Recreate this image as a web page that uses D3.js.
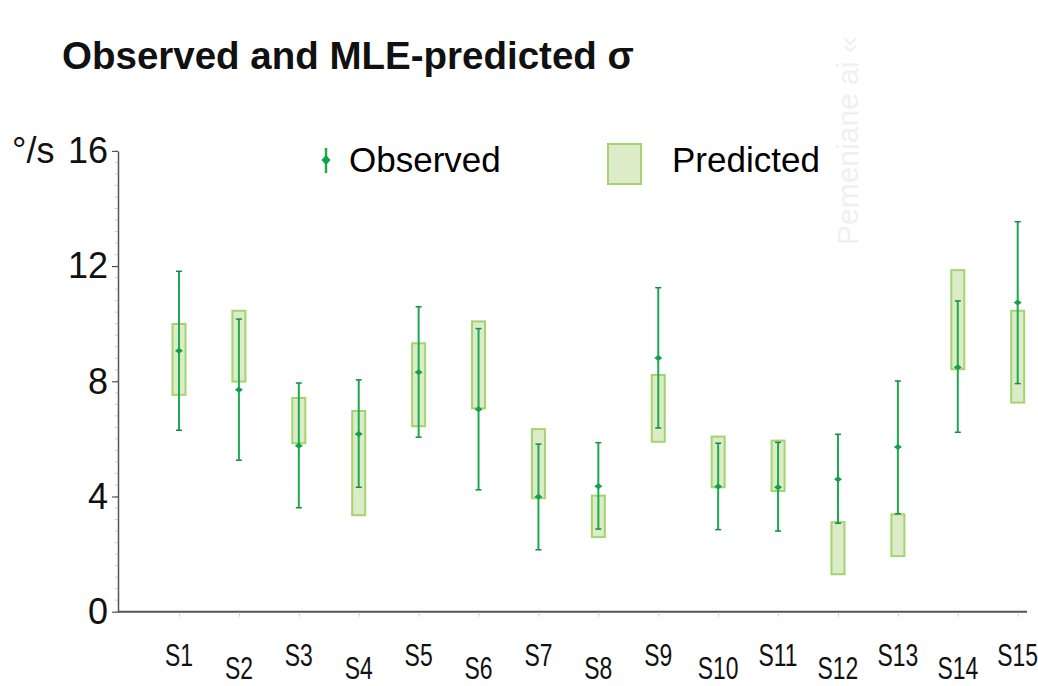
<!DOCTYPE html>
<html>
<head>
<meta charset="utf-8">
<script src="https://cdn.jsdelivr.net/npm/d3@7"></script>
<style>
  html, body { margin: 0; padding: 0; background: #fff; }
  svg { display: block; }
</style>
</head>
<body>
<svg id="chart" width="1038" height="686"></svg>
<script>
// Subjects along the x axis
const categories = ["S1","S2","S3","S4","S5","S6","S7","S8","S9","S10","S11","S12","S13","S14","S15"];
// Observed sigma (°/s): centre value and error-bar limits
const observed     = [9.06, 7.71, 5.76, 6.17, 8.31, 7.03, 3.99, 4.36, 8.81, 4.35, 4.32, 4.60, 5.72, 8.49, 10.74];
const observedLow  = [6.30, 5.26, 3.61, 4.32, 6.06, 4.23, 2.15, 2.87, 6.38, 2.85, 2.80, 3.07, 3.40, 6.23, 7.92];
const observedHigh = [11.82, 10.16, 7.94, 8.05, 10.59, 9.83, 5.82, 5.87, 11.25, 5.85, 5.88, 6.16, 8.01, 10.79, 13.54];
// MLE-predicted sigma range (°/s)
const predictedLow  = [7.53, 7.99, 5.85, 3.35, 6.44, 7.06, 3.94, 2.59, 5.90, 4.32, 4.19, 1.30, 1.93, 8.42, 7.26];
const predictedHigh = [9.99, 10.45, 7.42, 6.97, 9.32, 10.08, 6.34, 4.03, 8.22, 6.08, 5.94, 3.11, 3.38, 11.86, 10.45];
// Axis ticks
const yTicks = [0, 4, 8, 12, 16];
const yMinorTicks = d3.range(0, 16.01, 0.4);

const svg = d3.select("#chart");
const font = "'Liberation Sans', Arial, sans-serif";

const axisX0 = 118, axisX1 = 1027;
const y = d3.scaleLinear().domain([0, 16]).range([611.7, 150.9]);
const x = d3.scalePoint().domain(categories).range([179, 1017.7]);

const green = "#1fa84f";
const boxFill = "#dcecc9";
const boxStroke = "#a3d46f";

// Title
svg.append("text")
  .attr("x", 62).attr("y", 69)
  .attr("font-family", font).attr("font-weight", "bold").attr("font-size", 38.5)
  .attr("fill", "#111")
  .text("Observed and MLE-predicted σ");

// Faint vertical side text
svg.append("text")
  .attr("transform", "translate(858,245) rotate(-90)")
  .attr("font-family", font).attr("font-size", 30)
  .attr("fill", "#f0f0f0")
  .text("Pemeniane ai «");

// Y axis: minor ticks
svg.append("g").selectAll("line")
  .data(yMinorTicks)
  .join("line")
  .attr("x1", axisX0 - 3).attr("x2", axisX0)
  .attr("y1", d => y(d)).attr("y2", d => y(d))
  .attr("stroke", "#cfcfcf").attr("stroke-width", 1);

// Y axis: line, major ticks and labels
const yAxis = d3.axisLeft(y).tickValues(yTicks).tickSize(6).tickSizeOuter(0).tickPadding(4)
  .tickFormat(d3.format("d"));
const gy = svg.append("g").attr("transform", `translate(${axisX0},0)`).call(yAxis);
gy.select(".domain").attr("stroke", "#555").attr("stroke-width", 1.5);
gy.selectAll(".tick line").attr("stroke", "#555").attr("stroke-width", 1.2);
gy.selectAll(".tick text")
  .attr("font-family", font).attr("font-size", 36).attr("fill", "#111")
  .attr("dy", "0.33em");

// Unit label
svg.append("text")
  .attr("x", 12).attr("y", 163)
  .attr("font-family", font).attr("font-size", 36).attr("fill", "#111")
  .text("°/s");

// X axis baseline and category ticks
svg.append("line")
  .attr("x1", axisX0).attr("x2", axisX1)
  .attr("y1", y(0)).attr("y2", y(0))
  .attr("stroke", "#555").attr("stroke-width", 2);

const xAxis = d3.axisBottom(x).tickSize(4).tickSizeOuter(0).tickFormat("");
const gx = svg.append("g").attr("transform", `translate(0,${y(0) + 1})`).call(xAxis);
gx.select(".domain").remove();
gx.selectAll(".tick line").attr("stroke", "#d0d0d0");

// Category labels, staggered on two rows, in a condensed face
svg.append("g").selectAll("text")
  .data(categories)
  .join("text")
  .attr("transform", (d, i) => `translate(${x(d)},${i % 2 === 0 ? 666 : 679}) scale(0.74,1)`)
  .attr("text-anchor", "middle")
  .attr("font-family", font).attr("font-size", 31).attr("fill", "#111")
  .text(d => d);

// Predicted ranges as boxes
const boxW = 13;
svg.append("g").selectAll("rect")
  .data(categories)
  .join("rect")
  .attr("x", d => x(d) - boxW / 2)
  .attr("width", boxW)
  .attr("y", (d, i) => y(predictedHigh[i]))
  .attr("height", (d, i) => y(predictedLow[i]) - y(predictedHigh[i]))
  .attr("fill", boxFill)
  .attr("stroke", boxStroke)
  .attr("stroke-width", 2);

// Observed error bars
const bars = svg.append("g").selectAll("g")
  .data(categories)
  .join("g");

bars.append("line")
  .attr("x1", d => x(d)).attr("x2", d => x(d))
  .attr("y1", (d, i) => y(observedHigh[i]))
  .attr("y2", (d, i) => y(observedLow[i]))
  .attr("stroke", green).attr("stroke-width", 2);

[observedHigh, observedLow].forEach(arr => {
  bars.append("line")
    .attr("x1", d => x(d) - 3).attr("x2", d => x(d) + 3)
    .attr("y1", (d, i) => y(arr[i])).attr("y2", (d, i) => y(arr[i]))
    .attr("stroke", "#178a43").attr("stroke-width", 1.5);
});

bars.append("path")
  .attr("transform", (d, i) => `translate(${x(d)},${y(observed[i])})`)
  .attr("d", "M0,-3L4,0L0,3L-4,0Z")
  .attr("fill", "#12a04a");

// Legend
const legend = svg.append("g");
legend.append("line")
  .attr("x1", 326).attr("x2", 326).attr("y1", 148).attr("y2", 173)
  .attr("stroke", green).attr("stroke-width", 2.5);
legend.append("path")
  .attr("transform", "translate(326,160)")
  .attr("d", "M0,-5L4.5,0L0,5L-4.5,0Z")
  .attr("fill", "#12a04a");
legend.append("text")
  .attr("x", 349).attr("y", 172)
  .attr("font-family", font).attr("font-size", 35).attr("fill", "#000")
  .text("Observed");
legend.append("rect")
  .attr("x", 608).attr("y", 144).attr("width", 33).attr("height", 40)
  .attr("fill", boxFill).attr("stroke", boxStroke).attr("stroke-width", 2);
legend.append("text")
  .attr("x", 672).attr("y", 172)
  .attr("font-family", font).attr("font-size", 35).attr("fill", "#000")
  .text("Predicted");
</script>
</body>
</html>
